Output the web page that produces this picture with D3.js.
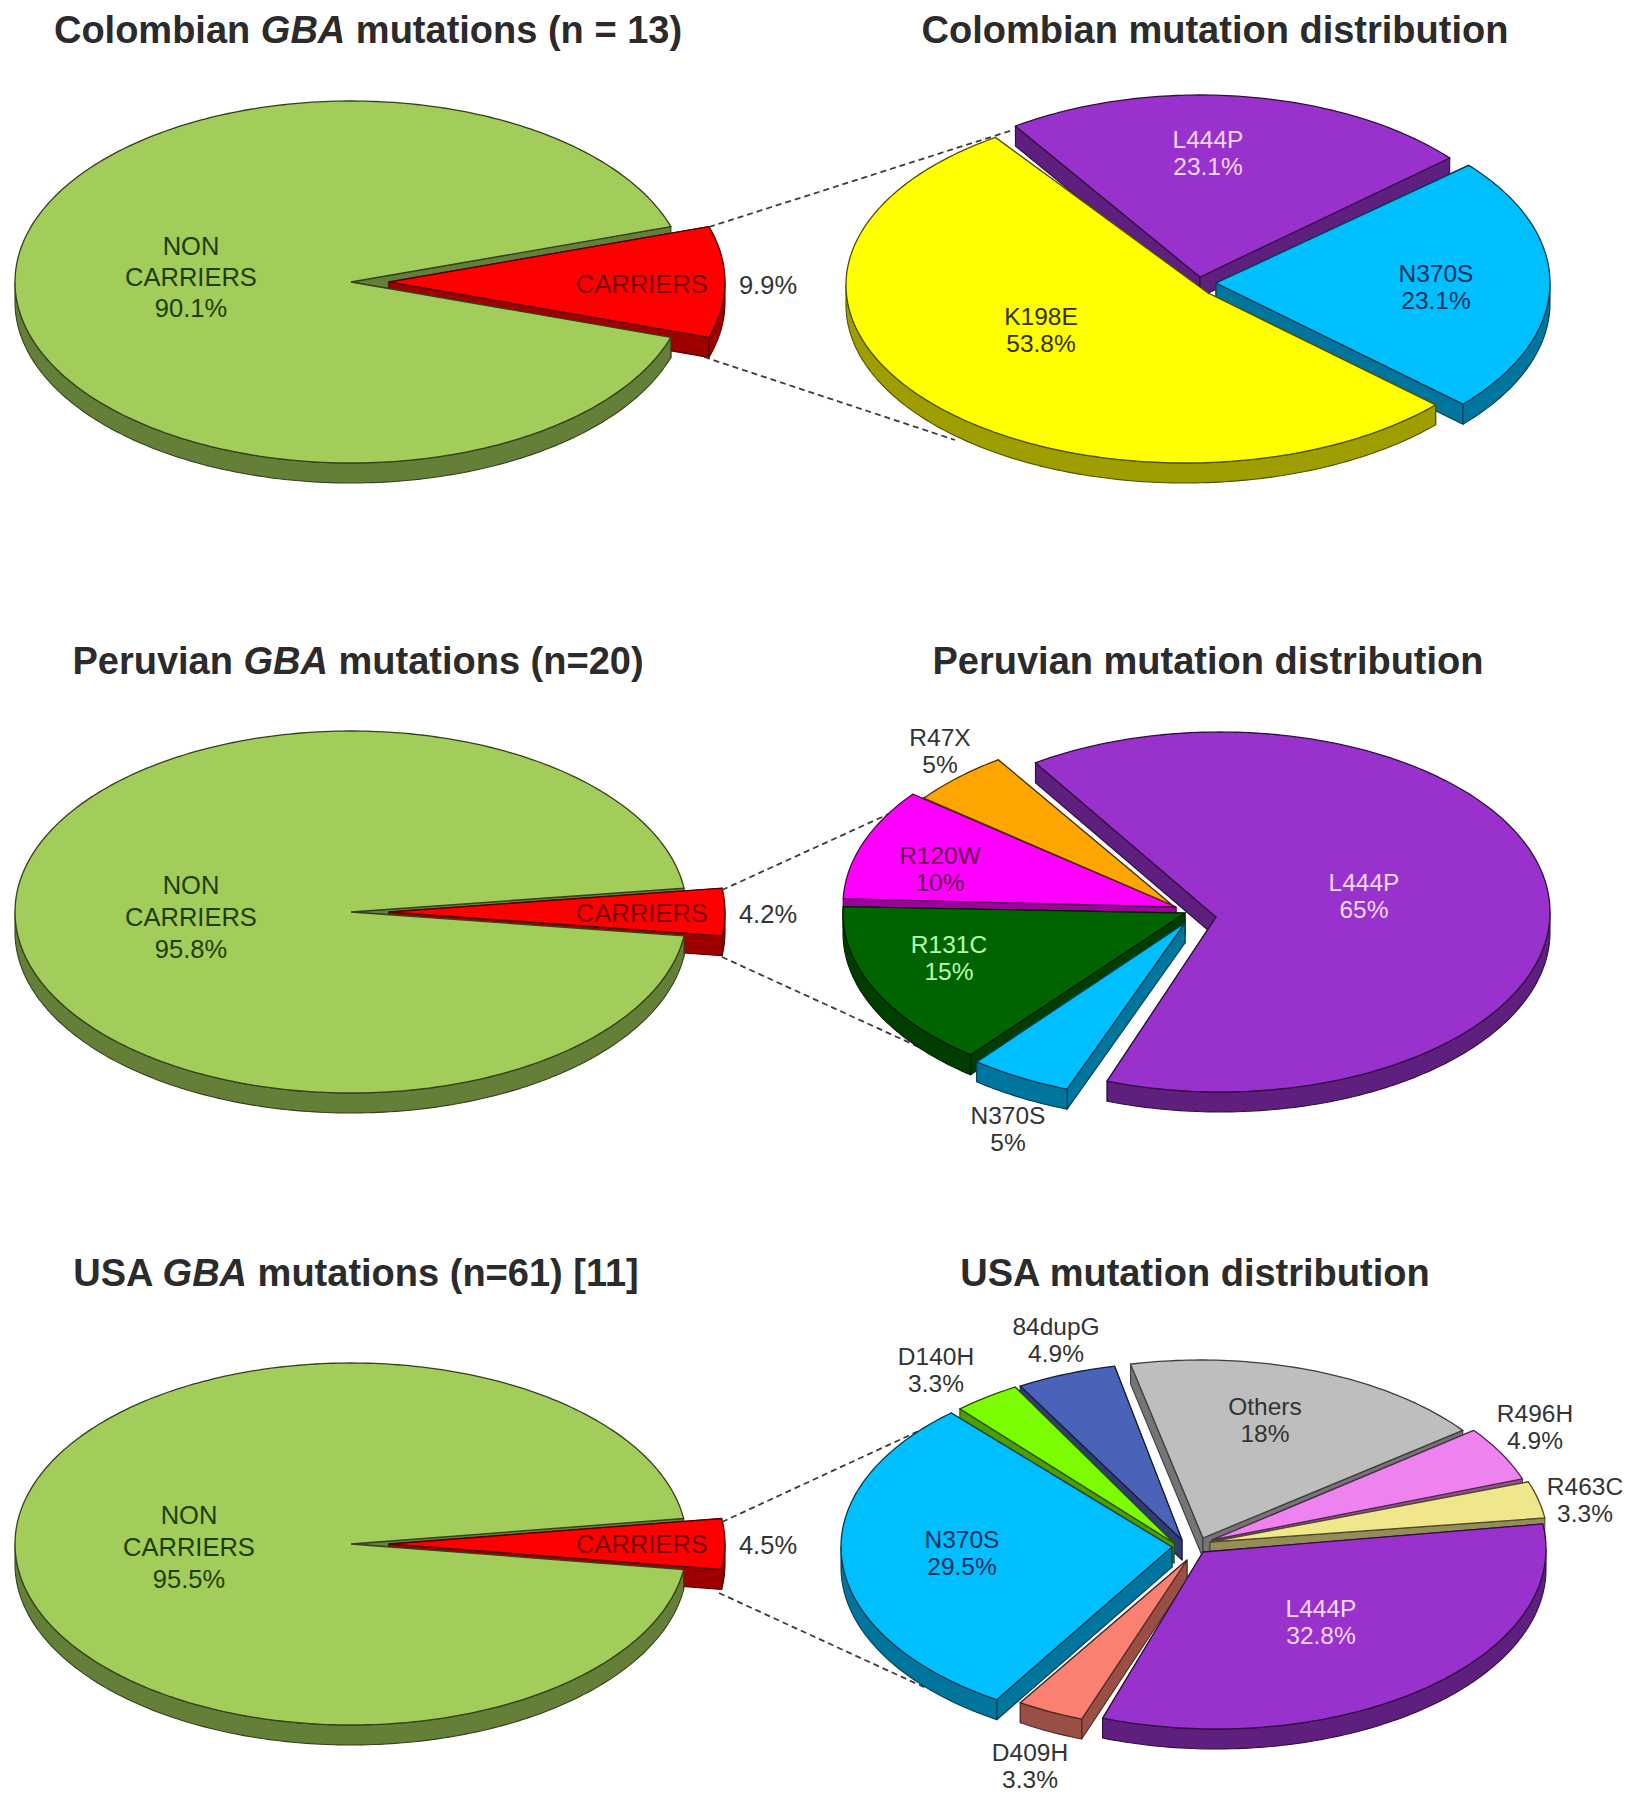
<!DOCTYPE html>
<html><head><meta charset="utf-8">
<script src="https://cdn.jsdelivr.net/npm/d3@7/dist/d3.min.js"></script>
<style>html,body{margin:0;padding:0;background:#fff}svg{display:block}text{font-family:"Liberation Sans",Arial,sans-serif}</style>
</head><body><svg id="c" width="1637" height="1804"></svg>
<script>
// ---- data ----
const carrierCategories = ["NON\nCARRIERS", "CARRIERS"];
const colombianCarrierValues = [90.1, 9.9];
const peruvianCarrierValues = [95.8, 4.2];
const usaCarrierValues = [95.5, 4.5];

const colombianMutations = ["L444P", "N370S", "K198E"];
const colombianMutationValues = [23.1, 23.1, 53.8];
const peruvianMutations = ["L444P", "N370S", "R131C", "R120W", "R47X"];
const peruvianMutationValues = [65, 5, 15, 10, 5];
const usaMutations = ["L444P", "D409H", "N370S", "D140H", "84dupG", "Others", "R496H", "R463C"];
const usaMutationValues = [32.8, 3.3, 29.5, 3.3, 4.9, 18, 4.9, 3.3];

const titleRows = [
  [["Colombian ", "GBA", " mutations (n = 13)"], "Colombian mutation distribution"],
  [["Peruvian ", "GBA", " mutations (n=20)"], "Peruvian mutation distribution"],
  [["USA ", "GBA", " mutations (n=61) [11]"], "USA mutation distribution"]
];

// ---- layout ----
const DEPTH = 20;
const rad = d => d * Math.PI / 180;
const svg = d3.select("#c");

const titleLayout = [
  {ly: 29, lx: 368, rx: 1215}, {ly: 660, lx: 358, rx: 1208}, {ly: 1272, lx: 356, rx: 1195}
];
const leftLayout = [
  {cy: 282, label: [191, 246, 31], carrierY: 284},
  {cy: 912, label: [191, 885, 32], carrierY: 913},
  {cy: 1544, label: [189, 1515, 32], carrierY: 1544}
];
const leaderLines = [
  [[709, 227, 1013, 130], [704, 357, 955, 440]],
  [[722, 890, 926, 797], [722, 957, 932, 1053]],
  [[722, 1522, 949, 1417], [719, 1593, 926, 1688]]
];
// start angle (degrees clockwise from north) of each mutation pie
const mutationStart = [-34, -34, 82];
// ellipse centre, radii, apex, fill, label centre, label colour for each slice
const mutationLayout = [
  [
    {c:[1200,277], r:[330,182], a:[1200,277], fill:"#9932cc", l:[1208,139], t:"#f6d8ff"},
    {c:[1216,283], r:[334,180], a:[1216,283], fill:"#00bfff", l:[1436,273], t:"#06305c"},
    {c:[1185,285], r:[339,178], a:[1208,293], fill:"#ffff00", l:[1041,316], t:"#333300"}
  ],
  [
    {c:[1220,912], r:[330,180], a:[1216,917], fill:"#9932cc", l:[1364,882], t:"#f6d8ff"},
    {c:[1180,920], r:[330,180], a:[1185,923], fill:"#00bfff", l:[1008,1115], t:"#333"},
    {c:[1175,913], r:[332,180], a:[1185,913], fill:"#006400", l:[949,944], t:"#b8ffb0"},
    {c:[1172,905], r:[329,180], a:[1176,907], fill:"#ff00ff", l:[940,855], t:"#660050"},
    {c:[1180,909], r:[325,180], a:[1172,905], fill:"#ffa500", l:[940,737], t:"#333"}
  ],
  [
    {c:[1216,1549], r:[330,180], a:[1203,1552], fill:"#9932cc", l:[1321,1608], t:"#f6d8ff"},
    {c:[1195,1550], r:[330,180], a:[1187,1560], fill:"#fa8072", l:[1030,1752], t:"#333"},
    {c:[1172,1547], r:[331,180], a:[1172,1547], fill:"#00bfff", l:[962,1539], t:"#06305c"},
    {c:[1180,1543], r:[330,180], a:[1174,1543], fill:"#7cfc00", l:[936,1356], t:"#333"},
    {c:[1185,1542], r:[330,180], a:[1182,1540], fill:"#4a62b8", l:[1056,1326], t:"#333"},
    {c:[1201,1540], r:[330,180], a:[1203,1538], fill:"#bebebe", l:[1265,1406], t:"#333"},
    {c:[1212,1540], r:[330,180], a:[1212,1540], fill:"#ee82ee", l:[1535,1413], t:"#333"},
    {c:[1218,1543], r:[330,180], a:[1210,1542], fill:"#f0e68c", l:[1585,1486], t:"#333"}
  ]
];

// ---- drawing helpers ----
const line = d3.line();
function rim(s, a) { return [s.c[0] + s.r[0] * Math.sin(a), s.c[1] - s.r[1] * Math.cos(a)]; }
function rimPoints(s, a0, a1) {
  const n = Math.max(2, Math.ceil(Math.abs(a1 - a0) / rad(1)));
  return d3.range(n + 1).map(i => rim(s, a0 + (a1 - a0) * i / n));
}
const down = p => [p[0], p[1] + DEPTH];

function slicePieces(arc, s) {
  const a0 = arc.startAngle, a1 = arc.endAngle;
  const base = d3.rgb(s.fill);
  const wall = base.darker(1.35).formatHex(), edge = base.darker(3.2).formatHex();
  const out = [];
  const p0 = rim(s, a0), p1 = rim(s, a1);
  [[s.a, p0], [s.a, p1]].forEach(([u, v]) => {
    const pts = [u, v, down(v), down(u)];
    out.push({pts, key: d3.mean(pts, p => p[1]), wall, edge});
  });
  // the outer band shows only where the rim faces the viewer
  [-1, 1, 3].forEach(turn => {
    const lo = Math.max(a0, Math.PI / 2 + turn * Math.PI * 0 + (turn === -1 ? -2 * Math.PI : turn === 3 ? 2 * Math.PI : 0));
    const hi = Math.min(a1, lo - lo + 1.5 * Math.PI + (turn === -1 ? -2 * Math.PI : turn === 3 ? 2 * Math.PI : 0));
    if (hi > lo) {
      const arcPts = rimPoints(s, lo, hi);
      const pts = arcPts.concat(arcPts.slice().reverse().map(down));
      out.push({pts, key: d3.mean(arcPts, p => p[1]) + DEPTH, wall, edge});
    }
  });
  return out;
}

function drawPie(g, arcs, layout) {
  const walls = arcs.flatMap((a, i) => slicePieces(a, layout[i])).sort((x, y) => x.key - y.key);
  g.append("g").selectAll("path").data(walls).join("path")
    .attr("d", d => line(d.pts) + "Z")
    .attr("fill", d => d.wall).attr("stroke", d => d.edge).attr("stroke-width", 1.1).attr("stroke-linejoin", "round");
  g.append("g").selectAll("path").data(arcs).join("path")
    .attr("d", (a, i) => {
      const s = layout[i];
      return line([s.a].concat(rimPoints(s, a.startAngle, a.endAngle))) + "Z";
    })
    .attr("fill", (a, i) => layout[i].fill)
    .attr("stroke", (a, i) => d3.rgb(layout[i].fill).darker(3.2).formatHex())
    .attr("stroke-width", 1.3).attr("stroke-linejoin", "miter");
}

function label(x, y, lines, lh, color, size) {
  const top = y;
  const t = svg.append("text").attr("text-anchor", "middle").attr("fill", color).attr("font-size", size);
  lines.forEach((txt, i) => t.append("tspan").attr("x", x).attr("y", top + i * lh + size * 0.36).text(txt));
}

const pieGen = (startDeg) => d3.pie().sort(null).startAngle(rad(startDeg)).endAngle(rad(startDeg + 360));

const carrierSets = [colombianCarrierValues, peruvianCarrierValues, usaCarrierValues];
const mutationSets = [
  [colombianMutations, colombianMutationValues],
  [peruvianMutations, peruvianMutationValues],
  [usaMutations, usaMutationValues]
];

carrierSets.forEach((vals, row) => {
  const L = leftLayout[row];
  const start = 90 + vals[1] * 1.8;
  const arcs = pieGen(start)(vals);
  const sl = [
    {c:[351, L.cy], r:[336, 181], a:[351, L.cy], fill:"#a2cd5a"},
    {c:[389, L.cy], r:[336, 181], a:[389, L.cy], fill:"#ff0000"}
  ];
  drawPie(svg.append("g"), arcs, sl);

  // leader lines
  svg.append("g").selectAll("line").data(leaderLines[row]).join("line")
    .attr("x1", d => d[0]).attr("y1", d => d[1]).attr("x2", d => d[2]).attr("y2", d => d[3])
    .attr("stroke", "#3c3c3c").attr("stroke-width", 1.8).attr("stroke-dasharray", "6,4");

  // mutation pie
  const [names, mv] = mutationSets[row];
  const mArcs = pieGen(mutationStart[row])(mv);
  drawPie(svg.append("g"), mArcs, mutationLayout[row]);

  // labels
  const [lx, ly, lh] = L.label;
  label(lx, ly, carrierCategories[0].split("\n").concat(vals[0] + "%"), lh, "#1e3d08", 25.5);
  label(642, L.carrierY, [carrierCategories[1]], 0, "#7c0000", 25.5);
  label(768, L.carrierY + 1, [vals[1] + "%"], 0, "#333", 25.5);
  names.forEach((n, i) => {
    const s = mutationLayout[row][i];
    label(s.l[0], s.l[1], [n, mv[i] + "%"], 27.5, s.t, 24.5);
  });

  // titles
  const [lt, rt] = titleRows[row];
  const T = titleLayout[row];
  const tl = svg.append("text").attr("x", T.lx).attr("y", T.ly + 14).attr("text-anchor", "middle")
    .attr("font-size", 38).attr("font-weight", "bold").attr("fill", "#2b2b2b");
  tl.append("tspan").text(lt[0]);
  tl.append("tspan").attr("font-style", "italic").text(lt[1]);
  tl.append("tspan").text(lt[2]);
  svg.append("text").attr("x", T.rx).attr("y", T.ly + 14).attr("text-anchor", "middle")
    .attr("font-size", 38).attr("font-weight", "bold").attr("fill", "#2b2b2b").text(rt);
});
</script></body></html>
